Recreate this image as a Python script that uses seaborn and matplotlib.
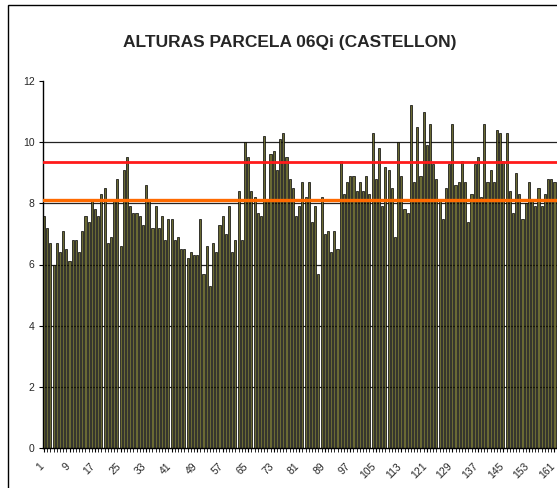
import numpy as np
import pandas as pd
import matplotlib.pyplot as plt
import matplotlib.transforms as mtransforms
import seaborn as sns
from matplotlib.patches import Rectangle

# Heights of the plants, one bar per plant
alturas = [
    7.6, 7.2, 6.7, 6.0, 6.7, 6.4, 7.1, 6.5, 6.1, 6.8,
    6.8, 6.4, 7.1, 7.6, 7.4, 8.1, 7.8, 7.6, 8.3, 8.5,
    6.7, 6.9, 8.1, 8.8, 6.6, 9.1, 9.5, 7.9, 7.7, 7.7,
    7.6, 7.3, 8.6, 8.1, 7.2, 7.9, 7.2, 7.6, 6.8, 7.5,
    7.5, 6.8, 6.9, 6.5, 6.5, 6.2, 6.4, 6.3, 6.3, 7.5,
    5.7, 6.6, 5.3, 6.7, 6.4, 7.3, 7.6, 7.0, 7.9, 6.4,
    6.8, 8.4, 6.8, 10.0, 9.5, 8.4, 8.2, 7.7, 7.6, 10.2,
    8.1, 9.6, 9.7, 9.1, 10.1, 10.3, 9.5, 8.8, 8.5, 7.6,
    7.9, 8.7, 8.2, 8.7, 7.4, 7.9, 5.7, 8.2, 7.0, 7.1,
    6.4, 7.1, 6.5, 9.4, 8.3, 8.7, 8.9, 8.9, 8.4, 8.7,
    8.4, 8.9, 8.3, 10.3, 8.8, 9.8, 7.9, 9.2, 9.1, 8.5,
    6.9, 10.0, 8.9, 7.8, 7.7, 11.2, 8.7, 10.5, 8.9, 11.0,
    9.9, 10.6, 9.3, 8.8, 8.1, 7.5, 8.5, 9.3, 10.6, 8.6,
    8.7, 9.4, 8.7, 7.4, 8.3, 9.3, 9.5, 8.2, 10.6, 8.7,
    9.1, 8.7, 10.4, 10.3, 9.4, 10.3, 8.4, 7.7, 9.0, 8.3,
    7.5, 8.0, 8.7, 8.1, 7.9, 8.5, 7.9, 8.3, 8.8, 8.8,
    8.7,
]
plantas = list(range(1, len(alturas) + 1))

# Reference lines
linea_roja = 9.36
linea_naranja = 8.12

y_ticks = [0, 2, 4, 6, 8, 10, 12]
grid_values = [2, 4, 6, 8, 10]
titulo = "ALTURAS PARCELA 06Qi (CASTELLON)"

df = pd.DataFrame({"planta": plantas, "altura": alturas})

sns.set_theme(style="white")
plt.rcParams["font.family"] = ["Liberation Sans", "DejaVu Sans"]

W, H = 557, 488
fig = plt.figure(figsize=(W / 100, H / 100), dpi=100)
ax = fig.add_axes([43 / W, (H - 448) / H, (W - 43) / W, (448 - 81) / H])

# chart area border (left and top visible, rest cropped)
fig.patches.append(Rectangle((8 / W, -0.1), 1.2, 1.1 - 5 / H,
                             transform=fig.transFigure, fill=False,
                             edgecolor="black", linewidth=1.0, zorder=0))

for g in grid_values:
    ax.axhline(g, color="#222222", linewidth=0.9, zorder=0)

sns.barplot(data=df, x="planta", y="altura", ax=ax, color="#6a6a34",
            saturation=1, width=0.66, edgecolor="black", linewidth=0.5,
            zorder=2)

ax.axhline(linea_naranja, color="#ff6a00", linewidth=2.4, zorder=3)
ax.axhline(linea_roja, color="#ff1a1a", linewidth=2.0, zorder=3)

ax.set_ylim(0, 12)
ax.set_xlim(-0.32, len(alturas) - 0.2)
ax.set_yticks(y_ticks)
ax.set_yticklabels([str(t) for t in y_ticks], fontsize=7.5)

ax.set_xticks(range(len(alturas)), minor=True)
ax.set_xticks(range(0, len(alturas), 8))
ax.set_xticklabels([])
# rotated category labels, placed a bit left of and below each tick
shift = mtransforms.ScaledTranslation(-5 / 100, -13 / 100, fig.dpi_scale_trans)
lbl_trans = ax.get_xaxis_transform() + shift
for pos in range(0, len(alturas), 8):
    ax.text(pos, 0, str(plantas[pos]), transform=lbl_trans, fontsize=7.5,
            rotation=45, ha="right", va="top", rotation_mode="anchor",
            clip_on=False)
ax.tick_params(axis="x", which="major", length=3, width=0.8,
               bottom=True, color="black")
ax.tick_params(axis="x", which="minor", length=3, width=0.6, bottom=True,
               color="black")
ax.tick_params(axis="y", length=3, width=0.8, left=True, color="black", pad=3)

for side in ["top", "right"]:
    ax.spines[side].set_visible(False)
for side in ["left", "bottom"]:
    ax.spines[side].set_color("black")
    ax.spines[side].set_linewidth(1.0)

ax.set_xlabel("")
ax.set_ylabel("")
fig.text(290 / W, 1 - 42 / H, titulo, ha="center", va="center",
         fontsize=12.5, fontweight="bold")

plt.savefig("out.png", dpi=100)
